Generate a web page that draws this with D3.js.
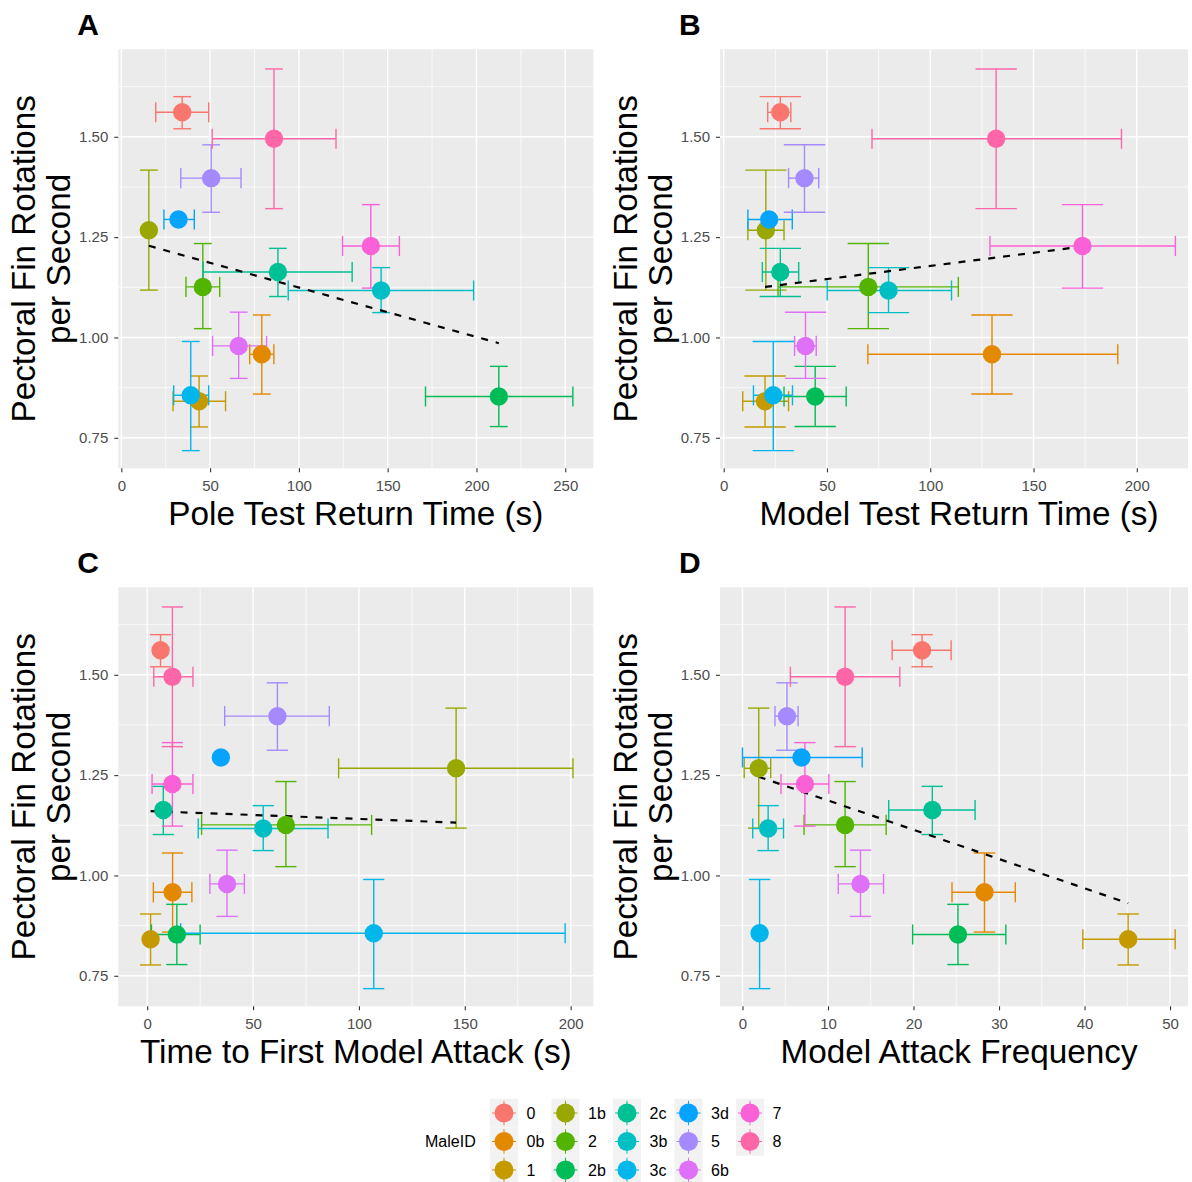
<!DOCTYPE html>
<html><head><meta charset="utf-8">
<script src="https://cdn.jsdelivr.net/npm/d3@7"></script>
<style>
body{margin:0;background:#fff;}
svg{display:block;font-family:"Liberation Sans",Arial,sans-serif;}
</style>
</head><body>
<svg id="chart" width="1192" height="1182"></svg>
<script>
// ---------------- data ----------------
const males = ["0","0b","1","1b","2","2b","2c","3b","3c","3d","5","6b","7","8"];
const maleColors = ["#F8766D","#E38900","#C49A00","#99A800","#53B400","#00BC56","#00C094","#00BFC4","#00B6EB","#06A4FF","#A58AFF","#DF70F8","#FB61D7","#FF66A8"];

// Pectoral fin rotations per second (mean, lower, upper)
const rotation   = [1.561, 0.958, 0.841, 1.267, 1.126, 0.853, 1.163, 1.117, 0.856, 1.294, 1.397, 0.979, 1.228, 1.495];
const rotationLo = [1.520, 0.859, 0.777, 1.118, 1.022, 0.778, 1.102, 1.062, 0.718, null,  1.312, 0.898, 1.123, 1.321];
const rotationHi = [1.600, 1.056, 0.904, 1.417, 1.234, 0.928, 1.222, 1.174, 0.990, null,  1.480, 1.063, 1.331, 1.669];

// A: pole test return time (s)
const poleTime   = [34.3, 79.1, 43.8, 15.5, 45.9, 212.6, 88.2, 146.3, 39.1, 32.2, 50.6, 66.1, 140.5, 86.0];
const poleTimeLo = [19.4, 72.3, 29.1, null, 36.4, 171.3, 46.1, 94.0, 29.5, 24.0, 33.5, 51.4, 124.6, 51.2];
const poleTimeHi = [49.2, 85.9, 58.7, null, 55.4, 254.3, 130.0, 198.4, 49.2, 41.1, 67.4, 81.8, 156.6, 120.9];

// B: model test return time (s)
const modelTime   = [27.4, 129.9, 20.0, 20.4, 70.0, 44.3, 27.4, 79.8, 24.0, 22.0, 39.1, 39.6, 173.7, 131.9];
const modelTimeLo = [21.3, 69.8, 9.2, 11.7, 26.3, 29.2, 18.7, 50.1, 14.4, 11.7, 31.4, 34.3, 128.9, 71.8];
const modelTimeHi = [32.5, 190.8, 31.4, 29.2, 113.6, 59.3, 36.3, 110.3, 33.3, 33.2, 46.0, 44.8, 218.7, 192.6];

// C: time to first model attack (s)
const firstAttack   = [6.3, 12.0, 1.6, 145.9, 65.5, 14.0, 7.6, 54.8, 107.0, 34.8, 61.5, 37.7, 11.9, 11.9];
const firstAttackLo = [null, 2.9, null, 90.4, 25.7, 2.0, null, 24.1, 15.8, null, 36.6, 29.6, 2.3, 3.1];
const firstAttackHi = [null, 21.1, null, 201.1, 106.0, 25.0, null, 85.4, 197.4, null, 86.0, 45.9, 21.6, 21.6];

// D: model attack frequency
const attackFreq   = [21.0, 28.3, 45.1, 1.9, 12.0, 25.2, 22.2, 3.0, 2.0, 6.9, 5.2, 13.8, 7.3, 12.0];
const attackFreqLo = [17.5, 24.5, 39.8, 0.2, 7.2, 19.9, 17.1, 1.2, null, 0.0, 3.8, 11.2, 4.5, 5.6];
const attackFreqHi = [24.4, 31.9, 50.6, 3.3, 16.8, 30.8, 27.2, 4.8, null, 14.0, 6.5, 16.5, 10.1, 18.4];

// ticks
const yTicks = [0.75, 1.00, 1.25, 1.50];
const yMinorTicks = [0.875, 1.125, 1.375, 1.625];
const xTicksA = [0, 50, 100, 150, 200, 250];
const xMinorA = [25, 75, 125, 175, 225];
const xTicksB = [0, 50, 100, 150, 200];
const xMinorB = [25, 75, 125, 175];
const xTicksC = [0, 50, 100, 150, 200];
const xMinorC = [25, 75, 125, 175];
const xTicksD = [0, 10, 20, 30, 40, 50];
const xMinorD = [5, 15, 25, 35, 45];

// ---------------- layout ----------------
const svg = d3.select("#chart");
const yDomain = [0.674, 1.718];
const PW = 475, PW2 = 468, PH = 419;
const panels = [
  {label:"A", title:"Pole Test Return Time (s)", left:118.3, top:49.3, w:PW, dom:[-1.7,265.8], ticks:xTicksA, minor:xMinorA, cap:10, tOff:0,
   xv:poleTime, lo:poleTimeLo, hi:poleTimeHi},
  {label:"B", title:"Model Test Return Time (s)", left:720, top:49.3, w:PW2, dom:[-1.8,224.8], ticks:xTicksB, minor:xMinorB, cap:20, tOff:5,
   xv:modelTime, lo:modelTimeLo, hi:modelTimeHi},
  {label:"C", title:"Time to First Model Attack (s)", left:118.3, top:587.3, w:PW, dom:[-13.65,210.7], ticks:xTicksC, minor:xMinorC, cap:10, tOff:0,
   xv:firstAttack, lo:firstAttackLo, hi:firstAttackHi},
  {label:"D", title:"Model Attack Frequency", left:720, top:587.3, w:PW2, dom:[-2.63,52.1], ticks:xTicksD, minor:xMinorD, cap:2.5, tOff:5,
   xv:attackFreq, lo:attackFreqLo, hi:attackFreqHi}
];

panels.forEach(p => {
  const g = svg.append("g");
  const x = d3.scaleLinear().domain(p.dom).range([p.left, p.left + p.w]);
  const y = d3.scaleLinear().domain(yDomain).range([p.top + PH, p.top]);
  const x0 = p.left, x1 = p.left + p.w, y0 = p.top, y1 = p.top + PH;

  g.append("rect").attr("x", x0).attr("y", y0).attr("width", p.w).attr("height", PH).attr("fill", "#EBEBEB");

  // minor grid
  g.selectAll(".xmin").data(p.minor).join("line")
    .attr("x1", d => x(d)).attr("x2", d => x(d)).attr("y1", y0).attr("y2", y1)
    .attr("stroke", "#fff").attr("stroke-width", 0.7);
  g.selectAll(".ymin").data(yMinorTicks).join("line")
    .attr("x1", x0).attr("x2", x1).attr("y1", d => y(d)).attr("y2", d => y(d))
    .attr("stroke", "#fff").attr("stroke-width", 0.7);
  // major grid
  g.selectAll(".xmaj").data(p.ticks).join("line")
    .attr("x1", d => x(d)).attr("x2", d => x(d)).attr("y1", y0).attr("y2", y1)
    .attr("stroke", "#fff").attr("stroke-width", 1.4);
  g.selectAll(".ymaj").data(yTicks).join("line")
    .attr("x1", x0).attr("x2", x1).attr("y1", d => y(d)).attr("y2", d => y(d))
    .attr("stroke", "#fff").attr("stroke-width", 1.4);

  // axes
  const ax = g.append("g").attr("transform", `translate(0,${y1})`)
    .call(d3.axisBottom(x).tickValues(p.ticks).tickSize(4).tickPadding(8.5).tickFormat(d3.format("d")));
  const ay = g.append("g").attr("transform", `translate(${x0},0)`)
    .call(d3.axisLeft(y).tickValues(yTicks).tickSize(4).tickPadding(6).tickFormat(d3.format(".2f")));
  [ax, ay].forEach(a => {
    a.select(".domain").remove();
    a.selectAll(".tick line").attr("stroke", "#333333").attr("stroke-width", 1.1);
    a.selectAll(".tick text").attr("fill", "#4D4D4D").style("font-size", "15px")
      .style("font-family", '"Liberation Sans",Arial,sans-serif');
  });

  // error bars
  const idx = d3.range(males.length);
  const eb = g.append("g").attr("stroke-width", 1.4).attr("fill", "none");
  idx.forEach(i => {
    const c = maleColors[i];
    const cx = x(p.xv[i]), cy = y(rotation[i]);
    if (rotationLo[i] != null) {
      eb.append("line").attr("x1", cx).attr("x2", cx).attr("y1", y(rotationLo[i])).attr("y2", y(rotationHi[i])).attr("stroke", c);
      [rotationLo[i], rotationHi[i]].forEach(v => {
        eb.append("line").attr("x1", x(p.xv[i] - p.cap/2)).attr("x2", x(p.xv[i] + p.cap/2))
          .attr("y1", y(v)).attr("y2", y(v)).attr("stroke", c);
      });
    }
    if (p.lo[i] != null) {
      eb.append("line").attr("x1", x(p.lo[i])).attr("x2", x(p.hi[i])).attr("y1", cy).attr("y2", cy).attr("stroke", c);
      [p.lo[i], p.hi[i]].forEach(v => {
        eb.append("line").attr("x1", x(v)).attr("x2", x(v))
          .attr("y1", y(rotation[i] - 0.025)).attr("y2", y(rotation[i] + 0.025)).attr("stroke", c);
      });
    }
  });

  // linear fit (dashed)
  const mx = d3.mean(p.xv), my = d3.mean(rotation);
  const sxy = d3.sum(idx, i => (p.xv[i] - mx) * (rotation[i] - my));
  const sxx = d3.sum(idx, i => (p.xv[i] - mx) ** 2);
  const b = sxy / sxx, a = my - b * mx;
  const ext = d3.extent(p.xv);
  g.append("path").datum(ext.map(v => [v, a + b * v]))
    .attr("d", d3.line().x(d => x(d[0])).y(d => y(d[1])))
    .attr("fill", "none").attr("stroke", "#000").attr("stroke-width", 2.2).attr("stroke-dasharray", "7,8");

  // points
  g.selectAll("circle.pt").data(idx).join("circle").attr("class", "pt")
    .attr("cx", i => x(p.xv[i])).attr("cy", i => y(rotation[i])).attr("r", 9.2)
    .attr("fill", i => maleColors[i]);

  // titles
  g.append("text").attr("x", p.left - 41).attr("y", p.top - 14.3).text(p.label)
    .style("font-size", "30px").style("font-weight", "bold").attr("fill", "#000");
  g.append("text").attr("x", (x0 + x1) / 2 + p.tOff).attr("y", y1 + 56.7).attr("text-anchor", "middle")
    .style("font-size", "33.3px").attr("fill", "#000").text(p.title);
  const cyMid = (y0 + y1) / 2;
  g.append("text").attr("transform", `translate(${x0 - 83.3},${cyMid}) rotate(-90)`).attr("text-anchor", "middle")
    .style("font-size", "33.3px").attr("fill", "#000").text("Pectoral Fin Rotations");
  g.append("text").attr("transform", `translate(${x0 - 48.3},${cyMid}) rotate(-90)`).attr("text-anchor", "middle")
    .style("font-size", "33.3px").attr("fill", "#000").text("per Second");
});

// ---------------- legend ----------------
const lg = svg.append("g");
lg.append("text").attr("x", 425).attr("y", 1147).style("font-size", "16px").attr("fill", "#000").text("MaleID");
const keyW = 28, keyH = 28.5, colStep = 61.5, keyX0 = 490, keyY0 = 1098.75;
males.forEach((m, i) => {
  const col = Math.floor(i / 3), row = i % 3;
  const kx = keyX0 + col * colStep, ky = keyY0 + row * keyH;
  const c = maleColors[i];
  lg.append("rect").attr("x", kx).attr("y", ky).attr("width", keyW).attr("height", keyH).attr("fill", "#F2F2F2");
  lg.append("line").attr("x1", kx + 2).attr("x2", kx + keyW - 2).attr("y1", ky + keyH/2).attr("y2", ky + keyH/2).attr("stroke", c).attr("stroke-width", 1);
  lg.append("line").attr("x1", kx + keyW/2).attr("x2", kx + keyW/2).attr("y1", ky + 2).attr("y2", ky + keyH - 2).attr("stroke", c).attr("stroke-width", 1);
  lg.append("circle").attr("cx", kx + keyW/2).attr("cy", ky + keyH/2).attr("r", 9.5).attr("fill", c);
  lg.append("text").attr("x", kx + 36.5).attr("y", ky + keyH/2).attr("dy", "0.36em")
    .style("font-size", "16px").attr("fill", "#000").text(m);
});
</script>
</body></html>
